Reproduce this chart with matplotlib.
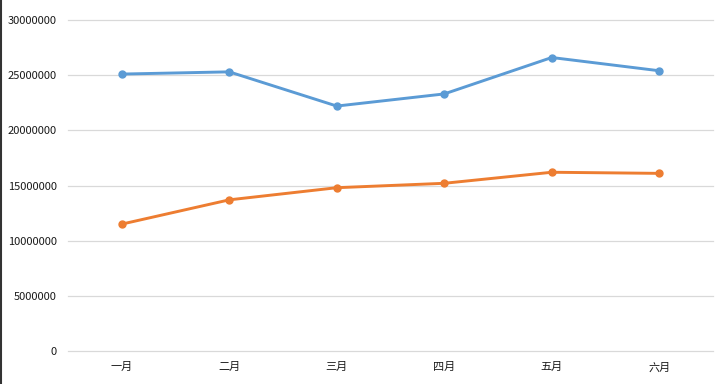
import matplotlib.pyplot as plt
from matplotlib.lines import Line2D

plt.rcParams['font.family'] = ['Noto Sans CJK SC', 'DejaVu Sans']

months = ['一月', '二月', '三月', '四月', '五月', '六月']
series_a = [25100000, 25300000, 22200000, 23300000, 26600000, 25400000]
series_b = [11500000, 13700000, 14800000, 15200000, 16200000, 16100000]
y_ticks = [0, 5000000, 10000000, 15000000, 20000000, 25000000, 30000000]

fig = plt.figure(figsize=(7.27, 3.84), dpi=100)
ax = fig.add_axes([68 / 727, 1 - 351 / 384, 645 / 727, 331 / 384])

x = range(len(months))
ax.plot(x, series_a, color='#5B9BD5', lw=2.1, marker='o', ms=5, zorder=3)
ax.plot(x, series_b, color='#ED7D31', lw=2.1, marker='o', ms=5, zorder=3)

ax.set_xlim(-0.5, len(months) - 0.5)
ax.set_ylim(0, 30000000)
ax.set_yticks(y_ticks)
ax.set_yticklabels([str(v) for v in y_ticks])
ax.set_xticks(list(x))
ax.set_xticklabels(months)
ax.tick_params(axis='both', length=0, labelsize=8, colors='#1a1a1a')
ax.tick_params(axis='x', pad=8)
ax.tick_params(axis='y', pad=8)
ax.grid(axis='y', color='#D9D9D9', lw=0.9)
for gl in ax.get_ygridlines():
    gl.set_clip_on(False)
ax.set_axisbelow(True)
for s in ax.spines.values():
    s.set_visible(False)

# dark left edge of the screenshot
fig.add_artist(Line2D([0.002, 0.002], [0, 1], color='#333333', lw=1.5, transform=fig.transFigure))

plt.savefig('out.png', dpi=100)
